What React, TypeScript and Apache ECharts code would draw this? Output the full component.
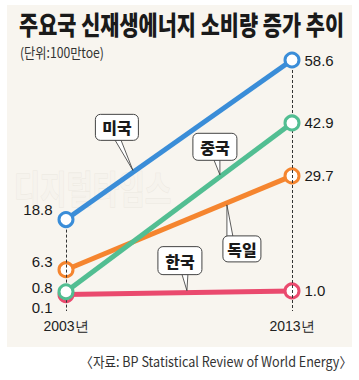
import React, { useEffect, useRef } from "react";
import * as echarts from "echarts";

const years = [2003, 2013];
const seriesNames = ["한국", "독일", "중국", "미국"];
const korea = [0.1, 1.0];
const germany = [6.3, 29.7];
const china = [0.8, 42.9];
const usa = [18.8, 58.6];
const seriesValues = [korea, germany, china, usa];
const colors = ["#ea4a6e", "#f5852f", "#52be92", "#3a8dd8"];
const yearLabel = "년";
const titleText = "주요국 신재생에너지 소비량 증가 추이";
const unitText = "(단위:100만toe)";
const sourceText = "〈자료: BP Statistical Review of World Energy〉";

// left label vertical offsets (style only)
const leftLabelDy = [13, -8, -4, -10];

// callouts: which series, year along the line, box offset from line point
const callouts = [
  { name: "미국", series: 3, at: 2005.96, dx: -16, dy: -45, w: 43, h: 26, bdx: 1 },
  { name: "중국", series: 2, at: 2009.81, dx: -5, dy: -30, w: 44, h: 27, bdx: 2 },
  { name: "독일", series: 1, at: 2010.12, dx: 15, dy: 46, w: 38, h: 26, bdx: -12 },
  { name: "한국", series: 0, at: 2008.35, dx: -7, dy: -32, w: 44, h: 28, bdx: 5 },
];

const NUM_FONT = "Liberation Sans";
const KR_FONT = "'Noto Sans CJK KR', sans-serif";

function interp(vals: number[], yr: number) {
  const t = (yr - years[0]) / (years[1] - years[0]);
  return vals[0] + (vals[1] - vals[0]) * t;
}

export default function App() {
  const ref = useRef<HTMLDivElement>(null);
  useEffect(() => {
    if (!ref.current) return;
    const chart = echarts.init(ref.current, null, { renderer: "svg" });
    const series = seriesNames.map((name, i) => ({
      name,
      type: "line",
      z: 3 + i,
      symbol: "circle",
      symbolSize: 14,
      lineStyle: { width: 5, color: colors[i] },
      itemStyle: { color: "#ffffff", borderColor: colors[i], borderWidth: 3 },
      emphasis: { disabled: true },
      data: years.map((yr, j) => ({
        value: [yr, seriesValues[i][j]],
        label: {
          show: true,
          position: j === 0 ? "left" : "right",
          distance: j === 0 ? 5 : 4,
          offset: j === 0 ? [0, leftLabelDy[i]] : [0, 0],
          formatter: () => seriesValues[i][j].toFixed(1),
          color: "#1a1a1a",
          fontSize: 15,
          fontFamily: NUM_FONT,
        },
      })),
      markLine:
        i === 3
          ? {
              silent: true,
              symbol: "none",
              label: { show: false },
              lineStyle: { type: [3, 2], color: "#333", width: 1 },
              data: years.map((yr, j) => [
                { coord: [yr, usa[j]] },
                { coord: [yr, -4] },
              ]),
            }
          : undefined,
    }));
    chart.setOption({
      animation: false,
      backgroundColor: "#ffffff",
      grid: { left: 66, right: 67, top: 60, bottom: 69 },
      xAxis: {
        type: "value",
        min: 2003,
        max: 2013,
        interval: 10,
        axisLine: { show: false },
        axisTick: { show: false },
        splitLine: { show: false },
        axisLabel: {
          formatter: (v: number) => v + yearLabel,
          color: "#222",
          fontSize: 14,
          fontFamily: NUM_FONT,
          margin: 8,
        },
      },
      yAxis: { type: "value", min: -4, max: 58.6, show: false },
      series,
    });

    const base: any[] = [
      {
        type: "rect",
        z: -10,
        shape: { x: 7, y: 5, width: 345, height: 342 },
        style: { fill: "#f8f5ef" },
      },
      {
        type: "text",
        z: -9,
        x: 14,
        y: 168,
        scaleX: 0.75,
        style: {
          text: "디지털타임스",
          font: `bold 38px ${KR_FONT}`,
          fill: "#f6f3ed",
          stroke: "#ece8e0",
          lineWidth: 1,
        },
      },
      {
        type: "text",
        x: 19,
        y: 11,
        scaleX: 0.8,
        style: {
          text: titleText,
          font: `900 26px ${KR_FONT}`,
          fill: "#1a1a1a",
        },
      },
      {
        type: "text",
        x: 20,
        y: 45,
        scaleX: 0.87,
        style: {
          text: unitText,
          font: `14px ${KR_FONT}`,
          fill: "#333",
        },
      },
      {
        type: "text",
        x: 352,
        y: 354,
        scaleX: 0.9,
        style: {
          text: sourceText,
          font: `14px ${KR_FONT}`,
          fill: "#333",
          align: "right",
        },
      },
    ];

    const callG: any[] = [];
    callouts.forEach((c) => {
      const val = interp(seriesValues[c.series], c.at);
      const p = chart.convertToPixel({ gridIndex: 0 }, [c.at, val]) as number[];
      const cx = p[0] + c.dx;
      const cy = p[1] + c.dy;
      const bx = cx - c.w / 2;
      const by = cy - c.h / 2;
      const below = c.dy < 0;
      const baseY = below ? by + c.h - 0.5 : by + 0.5;
      const baseX = cx + c.bdx;
      const tipY = below ? p[1] - 2 : p[1] + 2;
      callG.push({
        type: "polygon",
        z: 20,
        shape: {
          points: [
            [baseX - 3, baseY],
            [p[0], tipY],
            [baseX + 3, baseY],
          ],
        },
        style: { fill: "#ffffff", stroke: "#333", lineWidth: 0.8 },
      });
      callG.push({
        type: "rect",
        z: 21,
        shape: { x: bx, y: by, width: c.w, height: c.h, r: 5 },
        style: { fill: "#ffffff", stroke: "#444", lineWidth: 1 },
      });
      callG.push({
        type: "text",
        z: 22,
        x: cx,
        y: cy,
        style: {
          text: c.name,
          font: `900 16px ${KR_FONT}`,
          fill: "#1a1a1a",
          align: "center",
          verticalAlign: "middle",
        },
      });
    });

    chart.setOption({ graphic: [...base, ...callG] });
    return () => chart.dispose();
  }, []);
  return (
    <div
      ref={ref}
      style={{ position: "fixed", left: 0, top: 0, width: 359, height: 380 }}
    />
  );
}
